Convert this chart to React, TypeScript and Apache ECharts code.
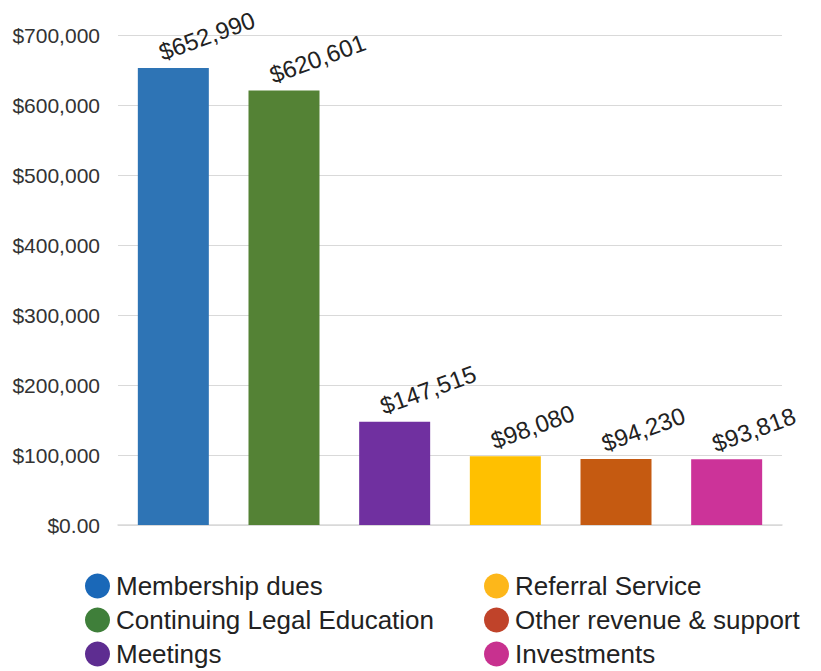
import React, { useEffect, useRef } from "react";
import * as echarts from "echarts";

const categories = [
  "Membership dues",
  "Continuing Legal Education",
  "Meetings",
  "Referral Service",
  "Other revenue & support",
  "Investments",
];
const values = [652990, 620601, 147515, 98080, 94230, 93818];
const barColors = ["#2E74B5", "#548235", "#7030A0", "#FFC000", "#C55A11", "#CC3399"];
const legendColors = ["#1A68B8", "#3F7F3A", "#5E2D91", "#FDB71A", "#C0432A", "#C8318F"];
const yTicks = [0, 100000, 200000, 300000, 400000, 500000, 600000, 700000];

const fmtMoney = (v: number) => "$" + v.toLocaleString("en-US");

export default function App() {
  const ref = useRef<HTMLDivElement>(null);
  useEffect(() => {
    document.body.style.margin = "0";
    if (!ref.current) return;
    const chart = echarts.init(ref.current, null, { renderer: "svg" });
    const series = categories.map((name, i) => ({
      name,
      type: "bar",
      barWidth: 71,
      barGap: "-100%",
      itemStyle: { color: barColors[i] },
      data: values.map((v, j) => (j === i ? v : "-")),
      label: {
        show: true,
        position: "top",
        rotate: 20,
        align: "left",
        verticalAlign: "bottom",
        distance: 7,
        offset: [-10, 0],
        fontSize: 24,
        fontFamily: "Liberation Sans, Arial, sans-serif",
        color: "#222",
        formatter: (p: any) => fmtMoney(p.value),
      },
    }));
    const legendText = {
      fontSize: 26,
      fontFamily: "Liberation Sans, Arial, sans-serif",
      color: "#222",
      padding: [0, 0, 0, 1],
    };
    chart.setOption({
      animation: false,
      grid: { left: 118, right: 39, top: 35, bottom: 146 },
      legend: [
        {
          orient: "vertical",
          left: 80,
          top: 568,
          height: 120,
          itemGap: 8,
          icon: "circle",
          itemWidth: 25,
          itemHeight: 25,
          textStyle: legendText,
          data: categories.slice(0, 3).map((n, i) => ({ name: n, itemStyle: { color: legendColors[i] } })),
        },
        {
          orient: "vertical",
          left: 479,
          top: 568,
          height: 120,
          itemGap: 8,
          icon: "circle",
          itemWidth: 25,
          itemHeight: 25,
          textStyle: legendText,
          data: categories.slice(3).map((n, i) => ({ name: n, itemStyle: { color: legendColors[i + 3] } })),
        },
      ],
      xAxis: {
        type: "category",
        data: categories,
        axisLine: { lineStyle: { color: "#d9d9d9", width: 1.5 } },
        axisTick: { show: false },
        axisLabel: { show: false },
      },
      yAxis: {
        type: "value",
        min: yTicks[0],
        max: yTicks[yTicks.length - 1],
        interval: 100000,
        axisLine: { show: false },
        axisTick: { show: false },
        splitLine: { lineStyle: { color: "#d9d9d9", width: 1 } },
        axisLabel: {
          fontSize: 21,
          fontFamily: "Liberation Sans, Arial, sans-serif",
          color: "#333",
          margin: 18,
          formatter: (v: number) => (v === 0 ? "$0.00" : fmtMoney(v)),
        },
      },
      series,
    });
    return () => chart.dispose();
  }, []);
  return <div ref={ref} style={{ width: 821, height: 671 }} />;
}
